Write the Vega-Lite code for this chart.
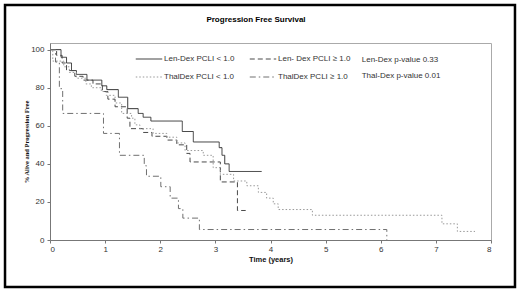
{
  "$schema": "https://vega.github.io/schema/vega-lite/v6.json",
  "autosize": {"type": "none"},
  "width": 441,
  "height": 197,
  "padding": {"left": 50, "top": 43, "right": 29, "bottom": 53},
  "background": "white",
  "title": {"text": "Progression Free Survival", "fontSize": 8, "font": "Liberation Sans", "fontWeight": "bold", "offset": -20, "dx": -14.5, "color": "#000", "frame": "group"},
  "config": {
    "view": {"stroke": "#aaa", "strokeWidth": 1},
    "axis": {"grid": false, "labelFont": "Liberation Sans", "labelFontSize": 8, "labelColor": "#333", "tickSize": 3, "tickColor": "#777", "domainColor": "#777", "titleFont": "Liberation Sans", "titleFontWeight": "bold", "titleColor": "#111", "labelOverlap": false},
    "legend": {"orient": "none", "legendX": 85, "legendY": 2, "columns": 2, "direction": "horizontal", "symbolType": "stroke", "symbolSize": 700, "symbolStrokeWidth": 1, "labelFont": "Liberation Sans", "labelFontSize": 8, "labelColor": "#333", "columnPadding": 12, "rowPadding": -10.5, "padding": 0, "labelOffset": 1}
  },
  "datasets": {
    "km": [
      {"series": "Len-Dex PCLI < 1.0", "t": 0, "s": 100},
      {"series": "Len-Dex PCLI < 1.0", "t": 0.2, "s": 96},
      {"series": "Len-Dex PCLI < 1.0", "t": 0.3, "s": 93},
      {"series": "Len-Dex PCLI < 1.0", "t": 0.39, "s": 89},
      {"series": "Len-Dex PCLI < 1.0", "t": 0.48, "s": 87},
      {"series": "Len-Dex PCLI < 1.0", "t": 0.67, "s": 84},
      {"series": "Len-Dex PCLI < 1.0", "t": 0.94, "s": 81},
      {"series": "Len-Dex PCLI < 1.0", "t": 1.03, "s": 79},
      {"series": "Len-Dex PCLI < 1.0", "t": 1.24, "s": 75},
      {"series": "Len-Dex PCLI < 1.0", "t": 1.41, "s": 69},
      {"series": "Len-Dex PCLI < 1.0", "t": 1.6, "s": 66.5},
      {"series": "Len-Dex PCLI < 1.0", "t": 1.69, "s": 64.5},
      {"series": "Len-Dex PCLI < 1.0", "t": 1.83, "s": 62.5},
      {"series": "Len-Dex PCLI < 1.0", "t": 2.4, "s": 57},
      {"series": "Len-Dex PCLI < 1.0", "t": 2.6, "s": 51.5},
      {"series": "Len-Dex PCLI < 1.0", "t": 3.07, "s": 48.5},
      {"series": "Len-Dex PCLI < 1.0", "t": 3.12, "s": 44.5},
      {"series": "Len-Dex PCLI < 1.0", "t": 3.17, "s": 40},
      {"series": "Len-Dex PCLI < 1.0", "t": 3.25, "s": 36},
      {"series": "Len-Dex PCLI < 1.0", "t": 3.84, "s": 36},
      {"series": "Len- Dex PCLI ≥ 1.0", "t": 0, "s": 100},
      {"series": "Len- Dex PCLI ≥ 1.0", "t": 0.12, "s": 97},
      {"series": "Len- Dex PCLI ≥ 1.0", "t": 0.22, "s": 93},
      {"series": "Len- Dex PCLI ≥ 1.0", "t": 0.3, "s": 89},
      {"series": "Len- Dex PCLI ≥ 1.0", "t": 0.45, "s": 86},
      {"series": "Len- Dex PCLI ≥ 1.0", "t": 0.6, "s": 84},
      {"series": "Len- Dex PCLI ≥ 1.0", "t": 0.78, "s": 82},
      {"series": "Len- Dex PCLI ≥ 1.0", "t": 0.95, "s": 78},
      {"series": "Len- Dex PCLI ≥ 1.0", "t": 1.05, "s": 74},
      {"series": "Len- Dex PCLI ≥ 1.0", "t": 1.18, "s": 70},
      {"series": "Len- Dex PCLI ≥ 1.0", "t": 1.4, "s": 64},
      {"series": "Len- Dex PCLI ≥ 1.0", "t": 1.45, "s": 58.5},
      {"series": "Len- Dex PCLI ≥ 1.0", "t": 1.69, "s": 56.5},
      {"series": "Len- Dex PCLI ≥ 1.0", "t": 1.85, "s": 54.5},
      {"series": "Len- Dex PCLI ≥ 1.0", "t": 2.12, "s": 52.5},
      {"series": "Len- Dex PCLI ≥ 1.0", "t": 2.3, "s": 50},
      {"series": "Len- Dex PCLI ≥ 1.0", "t": 2.48, "s": 45.5},
      {"series": "Len- Dex PCLI ≥ 1.0", "t": 2.54, "s": 41},
      {"series": "Len- Dex PCLI ≥ 1.0", "t": 3.09, "s": 30.5},
      {"series": "Len- Dex PCLI ≥ 1.0", "t": 3.4, "s": 15.5},
      {"series": "Len- Dex PCLI ≥ 1.0", "t": 3.55, "s": 15.5},
      {"series": "ThalDex PCLI < 1.0", "t": 0, "s": 100},
      {"series": "ThalDex PCLI < 1.0", "t": 0.05, "s": 94},
      {"series": "ThalDex PCLI < 1.0", "t": 0.25, "s": 91},
      {"series": "ThalDex PCLI < 1.0", "t": 0.35, "s": 88},
      {"series": "ThalDex PCLI < 1.0", "t": 0.48, "s": 85},
      {"series": "ThalDex PCLI < 1.0", "t": 0.65, "s": 82},
      {"series": "ThalDex PCLI < 1.0", "t": 0.75, "s": 80},
      {"series": "ThalDex PCLI < 1.0", "t": 0.93, "s": 78},
      {"series": "ThalDex PCLI < 1.0", "t": 1.02, "s": 76},
      {"series": "ThalDex PCLI < 1.0", "t": 1.18, "s": 72},
      {"series": "ThalDex PCLI < 1.0", "t": 1.3, "s": 66.5},
      {"series": "ThalDex PCLI < 1.0", "t": 1.48, "s": 64},
      {"series": "ThalDex PCLI < 1.0", "t": 1.54, "s": 60.5},
      {"series": "ThalDex PCLI < 1.0", "t": 1.63, "s": 58.5},
      {"series": "ThalDex PCLI < 1.0", "t": 1.87, "s": 56},
      {"series": "ThalDex PCLI < 1.0", "t": 2.12, "s": 54},
      {"series": "ThalDex PCLI < 1.0", "t": 2.3, "s": 51},
      {"series": "ThalDex PCLI < 1.0", "t": 2.45, "s": 47},
      {"series": "ThalDex PCLI < 1.0", "t": 2.78, "s": 44.5},
      {"series": "ThalDex PCLI < 1.0", "t": 2.96, "s": 38},
      {"series": "ThalDex PCLI < 1.0", "t": 3.09, "s": 34.5},
      {"series": "ThalDex PCLI < 1.0", "t": 3.33, "s": 31},
      {"series": "ThalDex PCLI < 1.0", "t": 3.57, "s": 28.5},
      {"series": "ThalDex PCLI < 1.0", "t": 3.78, "s": 25},
      {"series": "ThalDex PCLI < 1.0", "t": 3.93, "s": 22},
      {"series": "ThalDex PCLI < 1.0", "t": 4.05, "s": 19},
      {"series": "ThalDex PCLI < 1.0", "t": 4.14, "s": 16},
      {"series": "ThalDex PCLI < 1.0", "t": 4.76, "s": 13},
      {"series": "ThalDex PCLI < 1.0", "t": 7.11, "s": 8.5},
      {"series": "ThalDex PCLI < 1.0", "t": 7.39, "s": 4.5},
      {"series": "ThalDex PCLI < 1.0", "t": 7.71, "s": 4.5},
      {"series": "ThalDex PCLI ≥ 1.0", "t": 0, "s": 100},
      {"series": "ThalDex PCLI ≥ 1.0", "t": 0.1, "s": 93.5},
      {"series": "ThalDex PCLI ≥ 1.0", "t": 0.17, "s": 79.5},
      {"series": "ThalDex PCLI ≥ 1.0", "t": 0.23, "s": 66.5},
      {"series": "ThalDex PCLI ≥ 1.0", "t": 0.97, "s": 56},
      {"series": "ThalDex PCLI ≥ 1.0", "t": 1.26, "s": 44.5},
      {"series": "ThalDex PCLI ≥ 1.0", "t": 1.71, "s": 39},
      {"series": "ThalDex PCLI ≥ 1.0", "t": 1.75, "s": 33.5},
      {"series": "ThalDex PCLI ≥ 1.0", "t": 2.01, "s": 28},
      {"series": "ThalDex PCLI ≥ 1.0", "t": 2.18, "s": 22},
      {"series": "ThalDex PCLI ≥ 1.0", "t": 2.33, "s": 16.5},
      {"series": "ThalDex PCLI ≥ 1.0", "t": 2.41, "s": 11.5},
      {"series": "ThalDex PCLI ≥ 1.0", "t": 2.71, "s": 5.5},
      {"series": "ThalDex PCLI ≥ 1.0", "t": 6.11, "s": 0}
    ]
  },
  "layer": [
    {
      "data": {"name": "km"},
      "mark": {"type": "line", "interpolate": "step-after", "strokeWidth": 1},
      "encoding": {
        "x": {"field": "t", "type": "quantitative", "scale": {"domain": [0, 8], "nice": false, "zero": false},
              "axis": {"title": "Time (years)", "values": [0,1,2,3,4,5,6,7,8], "format": "d", "labelPadding": 2, "titlePadding": 2, "titleFontSize": 7.5}},
        "y": {"field": "s", "type": "quantitative", "scale": {"domain": [0, 103.5], "nice": false},
              "axis": {"title": "% Alive and Progression Free", "values": [0,20,40,60,80,100], "tickCount": 6, "labelOverlap": false, "format": "d", "labelPadding": 3, "titlePadding": 1, "titleFontSize": 6.5, "titleFont": "Liberation Sans Narrow"}},
        "color": {"field": "series", "type": "nominal",
                  "scale": {"domain": ["Len-Dex PCLI < 1.0", "Len- Dex PCLI ≥ 1.0", "ThalDex PCLI < 1.0", "ThalDex PCLI ≥ 1.0"], "range": ["#333333", "#4a4a4a", "#999999", "#707070"]},
                  "legend": {"title": null}},
        "strokeDash": {"field": "series", "type": "nominal",
                  "scale": {"domain": ["Len-Dex PCLI < 1.0", "Len- Dex PCLI ≥ 1.0", "ThalDex PCLI < 1.0", "ThalDex PCLI ≥ 1.0"], "range": [[1, 0], [5, 3], [1.5, 2], [6, 3, 1.5, 3]]},
                  "legend": {"title": null}}
      }
    },
    {
      "data": {"values": [{}]},
      "mark": {"type": "text", "align": "left", "baseline": "middle", "font": "Liberation Sans", "fontSize": 8, "color": "#333", "text": "Len-Dex p-value 0.33"},
      "encoding": {"x": {"datum": 5.655, "type": "quantitative"}, "y": {"datum": 94.5, "type": "quantitative"}}
    },
    {
      "data": {"values": [{}]},
      "mark": {"type": "text", "align": "left", "baseline": "middle", "font": "Liberation Sans", "fontSize": 8, "color": "#333", "text": "Thal-Dex p-value 0.01"},
      "encoding": {"x": {"datum": 5.655, "type": "quantitative"}, "y": {"datum": 86.2, "type": "quantitative"}}
    },
    {
      "data": {"values": [{}]},
      "mark": {"type": "rect", "fillOpacity": 0, "stroke": "#000", "strokeWidth": 2.5, "clip": false},
      "encoding": {"x": {"datum": -0.816, "type": "quantitative"}, "x2": {"datum": 8.435},
                   "y": {"datum": -24.7, "type": "quantitative"}, "y2": {"datum": 123.5}}
    }
  ]
}
